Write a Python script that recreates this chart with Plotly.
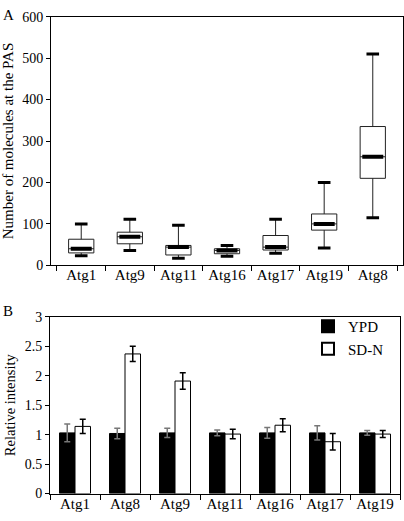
import plotly.graph_objects as go

# Panel A: box plot data (number of molecules at the PAS)
box_cats = ["Atg1", "Atg9", "Atg11", "Atg16", "Atg17", "Atg19", "Atg8"]
box_low = [23, 36, 17, 22, 29, 42, 115]
box_q1 = [30, 52, 25, 28, 37, 85, 210]
box_median = [40, 69, 44, 36, 44, 100, 262]
box_q3 = [63, 80, 48, 40, 72, 124, 335]
box_high = [100, 111, 97, 48, 111, 200, 510]

# Panel B: bar data (relative intensity)
bar_cats = ["Atg1", "Atg8", "Atg9", "Atg11", "Atg16", "Atg17", "Atg19"]
ypd_vals = [1.03, 1.02, 1.03, 1.03, 1.03, 1.03, 1.03]
ypd_err = [0.15, 0.09, 0.08, 0.05, 0.09, 0.12, 0.04]
sdn_vals = [1.14, 2.37, 1.91, 1.01, 1.16, 0.88, 1.01]
sdn_err = [0.12, 0.13, 0.14, 0.08, 0.11, 0.14, 0.06]

FONT = "Liberation Serif"
W, H = 404, 521

fig = go.Figure()

fig.add_trace(go.Box(
    x=box_cats, q1=box_q1, median=box_median, q3=box_q3,
    lowerfence=box_low, upperfence=box_high,
    fillcolor="white", line=dict(color="#222222", width=1),
    whiskerwidth=0, width=0.52, boxpoints=False,
    xaxis="x", yaxis="y", showlegend=False, hoverinfo="skip",
))
# thick median bars
fig.add_trace(go.Scatter(
    x=box_cats, y=box_median, mode="markers",
    marker=dict(symbol="line-ew", size=15, line=dict(width=4, color="black")),
    xaxis="x", yaxis="y", showlegend=False, hoverinfo="skip",
))
# thick whisker caps
fig.add_trace(go.Scatter(
    x=box_cats + box_cats, y=box_low + box_high, mode="markers",
    marker=dict(symbol="line-ew", size=9, line=dict(width=3, color="black")),
    xaxis="x", yaxis="y", showlegend=False, hoverinfo="skip",
))

fig.add_trace(go.Bar(
    x=bar_cats, y=ypd_vals, name="YPD",
    marker=dict(color="black", line=dict(color="black", width=1)),
    error_y=dict(type="data", array=ypd_err, color="#777777", thickness=1.5, width=3),
    xaxis="x2", yaxis="y2",
))
fig.add_trace(go.Bar(
    x=bar_cats, y=sdn_vals, name="SD-N",
    marker=dict(color="white", line=dict(color="black", width=1)),
    error_y=dict(type="data", array=sdn_err, color="black", thickness=1.5, width=3),
    xaxis="x2", yaxis="y2",
))

line_common = dict(
    showline=True, linecolor="black", linewidth=1, mirror=True,
    showgrid=False, zeroline=False, ticks="outside", tickcolor="black",
)
xfont = dict(family=FONT, size=15, color="black")
yfont = dict(family=FONT, size=14, color="black")

fig.update_layout(
    width=W, height=H,
    margin=dict(l=0, r=0, t=0, b=0),
    paper_bgcolor="white", plot_bgcolor="white",
    font=dict(family=FONT, size=14, color="black"),
    barmode="group", bargap=0.38, bargroupgap=0,
    xaxis=dict(domain=[51 / W, 403 / W], anchor="y", type="category",
               tickson="boundaries", ticklen=5, tickfont=xfont,
               ticklabelstandoff=-4, **line_common),
    yaxis=dict(domain=[1 - 266 / H, 1 - 10 / H], anchor="x", range=[0, 600],
               dtick=100, ticklen=4, tickfont=yfont,
               title=dict(text="Number of molecules at the PAS",
                          font=dict(family=FONT, size=15), standoff=4),
               **line_common),
    xaxis2=dict(domain=[50 / W, 400 / W], anchor="y2", type="category",
                tickson="boundaries", ticklen=5, tickfont=xfont,
                ticklabelstandoff=-4, **line_common),
    yaxis2=dict(domain=[1 - 501 / H, 1 - 319 / H], anchor="x2", range=[0, 3],
                dtick=0.5, ticklen=4, tickfont=yfont,
                title=dict(text="Relative intensity",
                           font=dict(family=FONT, size=14.5), standoff=5),
                **line_common),
    legend=dict(x=308 / W, y=1 - 312 / H, xanchor="left", yanchor="top",
                bgcolor="rgba(0,0,0,0)", font=dict(family=FONT, size=15),
                itemsizing="constant", tracegroupgap=2),
    annotations=[
        dict(text="A", x=1 / W, y=1 - 8 / H, xref="paper", yref="paper",
             xanchor="left", yanchor="middle", showarrow=False,
             font=dict(family=FONT, size=15)),
        dict(text="B", x=1 / W, y=1 - 313 / H, xref="paper", yref="paper",
             xanchor="left", yanchor="middle", showarrow=False,
             font=dict(family=FONT, size=15)),
    ],
)

fig.write_html(
    "out.html",
    config={"displayModeBar": False},
    post_script="document.body.style.margin='0';document.body.style.overflow='hidden';",
)
